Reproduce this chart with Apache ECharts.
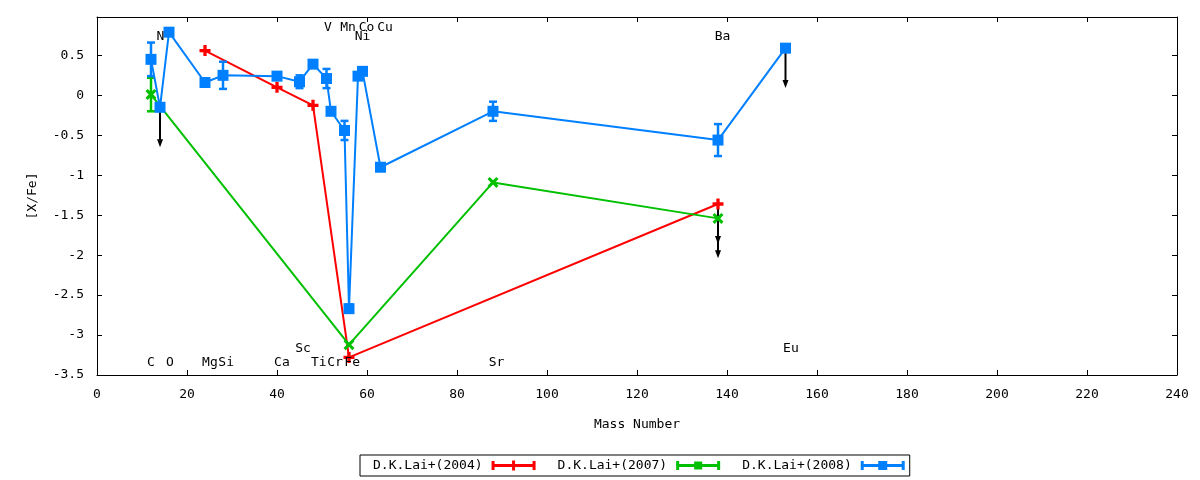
<!DOCTYPE html>
<html>
<head>
<meta charset="utf-8">
<script src="https://cdn.jsdelivr.net/npm/echarts@6.0.0/dist/echarts.min.js"></script>
<style>
  html, body { margin: 0; padding: 0; background: #fff; }
  #chart { width: 1200px; height: 480px; }
</style>
</head>
<body>
<div id="chart"></div>
<script>
// D.K.Lai+(2004)
var lai2004X = [24, 40, 48, 56, 138];
var lai2004Y = [0.56, 0.10, -0.125, -3.28, -1.36];

// D.K.Lai+(2007)
var lai2007X = [12, 56, 88, 138];
var lai2007Y = [0.01, -3.12, -1.09, -1.54];
var lai2007Err = [0.21, 0, 0, 0];

// D.K.Lai+(2008)
var lai2008X = [12, 14, 16, 24, 28, 40, 45, 48, 51, 52, 55, 56, 58, 59, 63, 88, 138, 153];
var lai2008Y = [0.45, -0.15, 0.79, 0.16, 0.25, 0.24, 0.17, 0.39, 0.21, -0.20, -0.44, -2.67, 0.24, 0.30, -0.90, -0.20, -0.56, 0.59];
var lai2008Err = [0.21, 0, 0, 0, 0.17, 0, 0.08, 0, 0.12, 0, 0.12, 0.05, 0, 0, 0, 0.12, 0.20, 0];

// upper limits (black arrows)
var limitX = [14, 138, 138, 153];
var limitY = [-0.15, -1.36, -1.54, 0.59];
var limitLen = [0.5, 0.5, 0.5, 0.5];

// element labels
var elemNames = ['C', 'O', 'Mg', 'Si', 'Ca', 'Sc', 'Ti', 'Cr', 'Fe', 'Sr', 'Eu', 'N', 'V', 'Mn', 'Co', 'Cu', 'Ni', 'Ba'];
var elemX = [12.0, 16.2, 25.1, 28.7, 41.1, 45.8, 49.3, 52.9, 56.7, 88.8, 154.2, 14.1, 51.3, 55.8, 59.9, 64.0, 59.0, 139.0];
var elemY = [-3.34, -3.34, -3.34, -3.34, -3.34, -3.17, -3.34, -3.34, -3.34, -3.34, -3.17, 0.73, 0.85, 0.85, 0.85, 0.85, 0.73, 0.73];

var seriesNames = ['D.K.Lai+(2004)', 'D.K.Lai+(2007)', 'D.K.Lai+(2008)'];

var FONT = '"DejaVu Sans Mono", monospace';
var red = '#ff0000', green = '#00c000', blue = '#0080ff';

var plusPath = 'path://M3.5,0H6.5V3.5H10V6.5H6.5V10H3.5V6.5H0V3.5H3.5Z';
var crossPath = 'path://M0,2L2,0L5,3L8,0L10,2L7,5L10,8L8,10L5,7L2,10L0,8L3,5Z';

// legend icons: |--marker--|
var iconBase = 'M0,0.5H3V9.5H0Z M41,0.5H44V9.5H41Z M0,3.5H44V6.5H0Z ';
var legendIcons = [
    'path://' + iconBase + 'M20.5,0H23.5V10H20.5Z',
    'path://' + iconBase + 'M18,1H26V9H18Z',
    'path://' + iconBase + 'M17.5,0.5H26.5V9.5H17.5Z'
];

function zip(xs, ys, es) {
    return xs.map(function (x, i) {
        return es ? [x, ys[i], es[i]] : [x, ys[i]];
    });
}

function errorBars(color) {
    return function (params, api) {
        var x = api.value(0), y = api.value(1), e = api.value(2);
        var hi = api.coord([x, y + e]);
        var lo = api.coord([x, y - e]);
        var w = 4;
        var style = { stroke: color, lineWidth: 2.5 };
        return {
            type: 'group',
            children: [
                { type: 'line', shape: { x1: hi[0], y1: hi[1], x2: lo[0], y2: lo[1] }, style: style },
                { type: 'line', shape: { x1: hi[0] - w, y1: hi[1], x2: hi[0] + w, y2: hi[1] }, style: style },
                { type: 'line', shape: { x1: lo[0] - w, y1: lo[1], x2: lo[0] + w, y2: lo[1] }, style: style }
            ]
        };
    };
}

function arrows(params, api) {
    var x = api.value(0), y = api.value(1), len = api.value(2);
    var p0 = api.coord([x, y]);
    var p1 = api.coord([x, y - len]);
    return {
        type: 'group',
        children: [
            { type: 'line', shape: { x1: p0[0], y1: p0[1], x2: p1[0], y2: p1[1] - 4 }, style: { stroke: '#000', lineWidth: 2 } },
            { type: 'polygon', shape: { points: [[p1[0] - 3, p1[1] - 8], [p1[0] + 3, p1[1] - 8], [p1[0], p1[1]]] }, style: { fill: '#000' } }
        ]
    };
}

function elemLabels(params, api) {
    var p = api.coord([api.value(0), api.value(1)]);
    return {
        type: 'text',
        x: p[0],
        y: p[1],
        style: {
            text: elemNames[params.dataIndex],
            fill: '#000',
            fontFamily: FONT,
            fontSize: 13,
            align: 'center',
            verticalAlign: 'middle'
        }
    };
}

var chart = echarts.init(document.getElementById('chart'));

var axisCommon = {
    type: 'value',
    axisLine: { show: true, onZero: false, lineStyle: { color: '#000', width: 1 } },
    axisTick: { show: true, inside: true, length: 5, lineStyle: { color: '#000', width: 1 } },
    splitLine: { show: false }
};

chart.setOption({
    animation: false,
    backgroundColor: '#fff',
    textStyle: { fontFamily: FONT },
    grid: { left: 97, right: 23, top: 17, bottom: 105 },
    legend: {
        data: seriesNames.map(function (n, i) { return { name: n, icon: legendIcons[i] }; }),
        selectedMode: false,
        left: 360,
        top: 455,
        align: 'right',
        orient: 'horizontal',
        itemWidth: 44,
        itemHeight: 10,
        itemGap: 22,
        padding: [4, 5, 4, 13],
        borderColor: '#000',
        borderWidth: 1,
        textStyle: { color: '#000', fontFamily: FONT, fontSize: 13, padding: [0, 4, 0, 0] }
    },
    xAxis: [
        Object.assign({}, axisCommon, {
            min: 0, max: 240, interval: 20, position: 'bottom',
            name: 'Mass Number', nameLocation: 'middle', nameGap: 43,
            nameTextStyle: { color: '#000', fontFamily: FONT, fontSize: 13 },
            axisLabel: { color: '#000', fontFamily: FONT, fontSize: 13, margin: 13 }
        }),
        Object.assign({}, axisCommon, {
            min: 0, max: 240, interval: 20, position: 'top',
            axisLabel: { show: false }
        })
    ],
    yAxis: [
        Object.assign({}, axisCommon, {
            min: -3.5, max: 0.98, interval: 0.5, position: 'left',
            name: '[X/Fe]', nameLocation: 'middle', nameGap: 58, nameRotate: 90,
            nameTextStyle: { color: '#000', fontFamily: FONT, fontSize: 13 },
            axisLabel: { color: '#000', fontFamily: FONT, fontSize: 13, margin: 13, showMaxLabel: false }
        }),
        Object.assign({}, axisCommon, {
            min: -3.5, max: 0.98, interval: 0.5, position: 'right',
            axisLabel: { show: false }
        })
    ],
    series: [
        {
            type: 'custom', renderItem: arrows, data: zip(limitX, limitY, limitLen),
            silent: true, z: 1
        },
        {
            name: seriesNames[0], type: 'line', data: zip(lai2004X, lai2004Y),
            symbol: plusPath, symbolSize: 11, showSymbol: true,
            itemStyle: { color: red }, lineStyle: { color: red, width: 2 },
            emphasis: { disabled: true }, z: 2
        },
        {
            type: 'custom', renderItem: errorBars(green),
            data: zip(lai2007X, lai2007Y, lai2007Err).filter(function (d) { return d[2] > 0; }),
            silent: true, z: 3
        },
        {
            name: seriesNames[1], type: 'line', data: zip(lai2007X, lai2007Y),
            symbol: crossPath, symbolSize: 11, showSymbol: true,
            itemStyle: { color: green }, lineStyle: { color: green, width: 2 },
            emphasis: { disabled: true }, z: 3
        },
        {
            type: 'custom', renderItem: errorBars(blue),
            data: zip(lai2008X, lai2008Y, lai2008Err).filter(function (d) { return d[2] > 0; }),
            silent: true, z: 4
        },
        {
            name: seriesNames[2], type: 'line', data: zip(lai2008X, lai2008Y),
            symbol: 'rect', symbolSize: 11, showSymbol: true,
            itemStyle: { color: blue }, lineStyle: { color: blue, width: 2 },
            emphasis: { disabled: true }, z: 4
        },
        {
            type: 'custom', renderItem: elemLabels, data: zip(elemX, elemY),
            silent: true, z: 5
        }
    ]
});
</script>
</body>
</html>
